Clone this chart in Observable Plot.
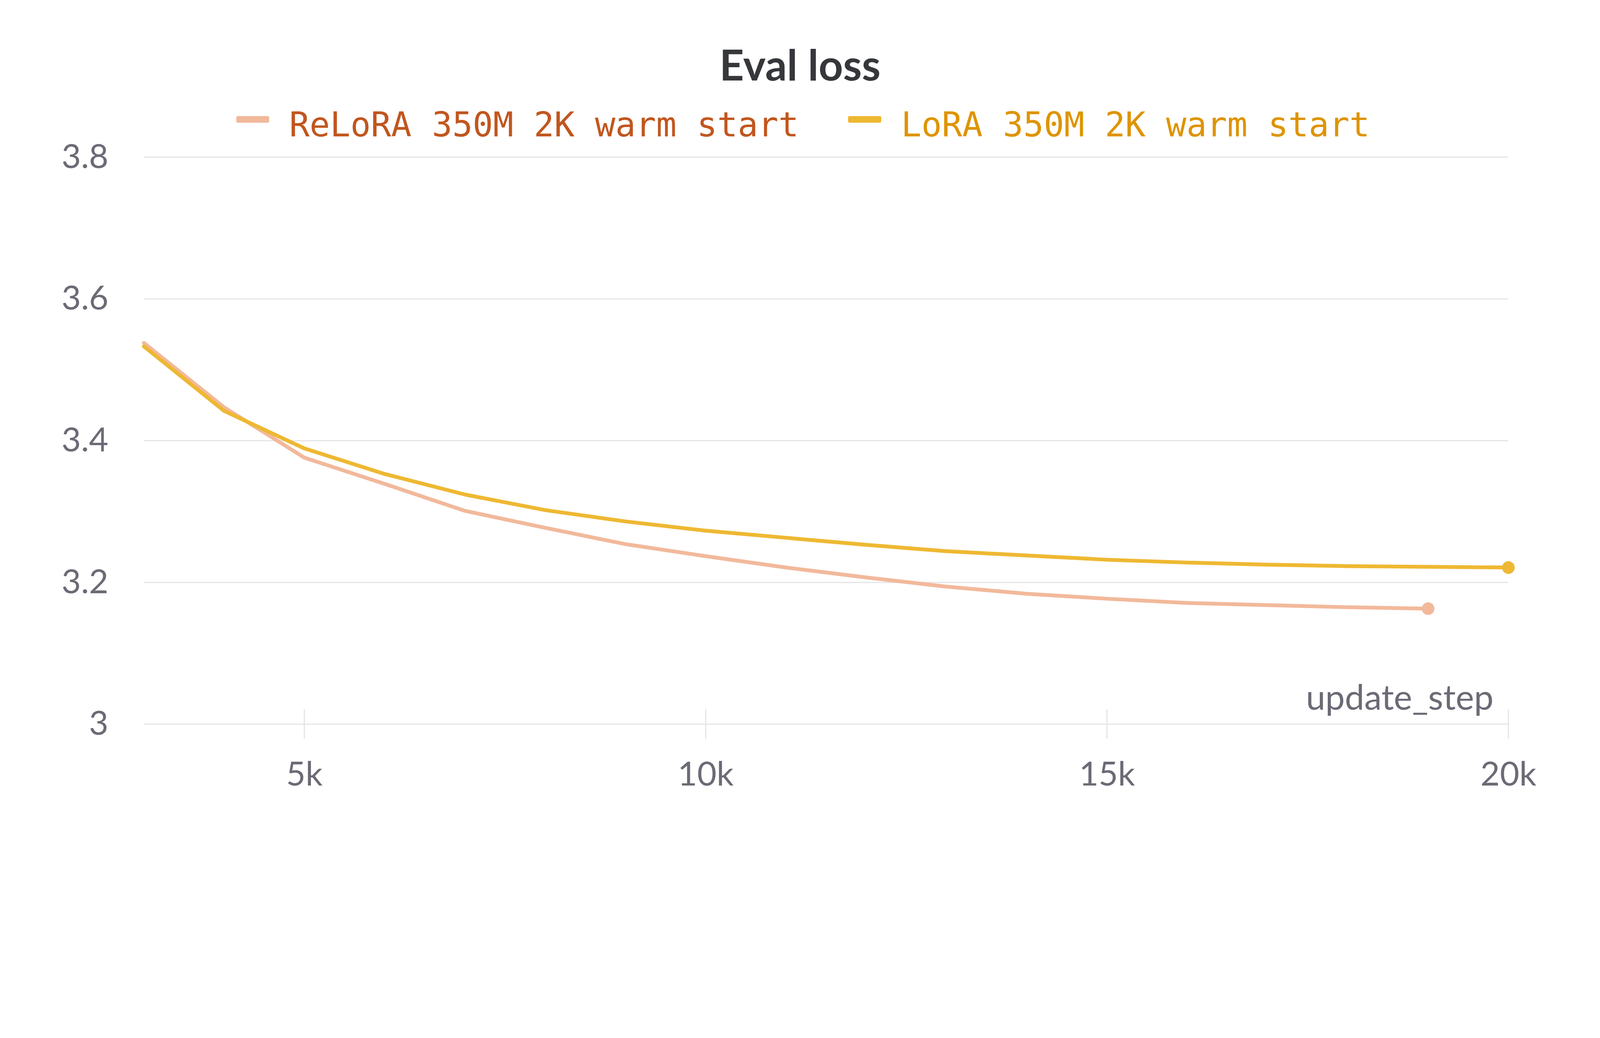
<!DOCTYPE html>
<html>
<head>
<meta charset="utf-8">
<script src="https://cdn.jsdelivr.net/npm/d3@7"></script>
<script src="https://cdn.jsdelivr.net/npm/@observablehq/plot@0.6"></script>
<style>
  :root { --u: calc(100vw / 5056); }
  html, body { margin: 0; padding: 0; background: #ffffff; overflow: hidden; }
  #header { position: relative; z-index: 2; width: 100vw; height: calc(410 * var(--u)); }
  #title { position: absolute; left: 0; top: calc(134 * var(--u)); width: 100vw; text-align: center;
           font-family: Lato, sans-serif; font-weight: bold; font-size: calc(135 * var(--u));
           line-height: calc(135 * var(--u)); color: #35373b; white-space: nowrap; }
  #legend { position: absolute; left: calc(747 * var(--u)); top: calc(341 * var(--u)); display: flex; align-items: flex-start;
            font-family: "DejaVu Sans Mono", monospace; font-size: calc(107 * var(--u));
            line-height: calc(107 * var(--u)); white-space: pre; }
  .sw { width: calc(104 * var(--u)); height: calc(21 * var(--u)); border-radius: calc(5 * var(--u));
        margin-top: calc(25 * var(--u)); margin-right: calc(63 * var(--u)); flex: none; }
  .item { display: flex; align-items: flex-start; }
  .item + .item { margin-left: calc(156 * var(--u)); }
  #chart { position: relative; z-index: 1; }
  #chart svg { display: block; width: 100vw; height: auto; max-width: none; background: transparent; }
</style>
</head>
<body>
<div id="header">
  <div id="title"></div>
  <div id="legend"></div>
</div>
<div id="chart"></div>
<script>
const title = "Eval loss";
const xLabel = "update_step";
const seriesNames = ["ReLoRA 350M 2K warm start", "LoRA 350M 2K warm start"];
const lineColors = ["#f2b99b", "#eeb832"];
const textColors = ["#c1561e", "#de9400"];

const reloraSteps = [3000, 4000, 5000, 6000, 7000, 8000, 9000, 10000, 11000, 12000, 13000, 14000, 15000, 16000, 17000, 18000, 19000];
const reloraLoss  = [3.538, 3.447, 3.376, 3.339, 3.301, 3.277, 3.254, 3.237, 3.221, 3.207, 3.194, 3.184, 3.177, 3.171, 3.168, 3.165, 3.163];
const loraSteps = [3000, 4000, 5000, 6000, 7000, 8000, 9000, 10000, 11000, 12000, 13000, 14000, 15000, 16000, 17000, 18000, 19000, 20000];
const loraLoss  = [3.533, 3.442, 3.389, 3.353, 3.324, 3.302, 3.286, 3.273, 3.263, 3.253, 3.244, 3.238, 3.232, 3.228, 3.225, 3.223, 3.222, 3.221];

const xDomain = [3000, 20000];
const yDomain = [3, 3.8];
const xTicks = [5000, 10000, 15000, 20000];
const xTickLabels = ["5k", "10k", "15k", "20k"];
const yTicks = [3, 3.2, 3.4, 3.6, 3.8];
const yTickLabels = ["3", "3.2", "3.4", "3.6", "3.8"];

const data = [
  ...reloraSteps.map((s, i) => ({series: seriesNames[0], step: s, loss: reloraLoss[i]})),
  ...loraSteps.map((s, i) => ({series: seriesNames[1], step: s, loss: loraLoss[i]}))
];

document.getElementById("title").textContent = title;
const legend = document.getElementById("legend");
seriesNames.forEach((name, i) => {
  const item = document.createElement("div");
  item.className = "item";
  const sw = document.createElement("div");
  sw.className = "sw";
  sw.style.background = lineColors[i];
  const t = document.createElement("span");
  t.textContent = name;
  t.style.color = textColors[i];
  item.appendChild(sw);
  item.appendChild(t);
  legend.appendChild(item);
});

const gray = "#6b6b76";
const grid = "#e6e6e9";
const font = "Lato, sans-serif";

// header occupies 410 of the 2656 design height; the SVG takes the rest
const chart = Plot.plot({
  width: 5056,
  height: 2246,
  marginLeft: 454,
  marginRight: 290,
  marginTop: 86,
  marginBottom: 369,
  style: {fontFamily: font, background: "transparent"},
  x: {domain: xDomain, type: "linear"},
  y: {domain: yDomain, type: "linear"},
  color: {domain: seriesNames, range: lineColors},
  marks: [
    Plot.ruleY(yTicks, {y: d => d, stroke: grid, strokeWidth: 4}),
    Plot.axisY(yTicks, {
      tickSize: 0, tickPadding: 112, fontSize: 106, fill: gray, fontFamily: font,
      tickFormat: d => yTickLabels[yTicks.indexOf(d)], label: null
    }),
    Plot.axisX(xTicks, {
      tickSize: 94, dy: -47, stroke: grid, strokeWidth: 4, tickFormat: () => "", label: null
    }),
    Plot.axisX(xTicks, {
      tickSize: 0, tickPadding: 118, fontSize: 106, fill: gray, fontFamily: font,
      tickFormat: d => xTickLabels[xTicks.indexOf(d)], label: null
    }),
    Plot.text([xLabel], {
      frameAnchor: "bottom-right", text: d => d, textAnchor: "end", lineAnchor: "middle",
      dx: -47, dy: -81, fontSize: 110, fill: gray, fontFamily: font
    }),
    Plot.line(data, {x: "step", y: "loss", z: "series", stroke: "series", strokeWidth: 12, strokeLinejoin: "round"}),
    Plot.dot(data, Plot.selectLast({x: "step", y: "loss", z: "series", fill: "series", r: 20, stroke: "none"}))
  ]
});
document.getElementById("chart").appendChild(chart);
</script>
</body>
</html>
